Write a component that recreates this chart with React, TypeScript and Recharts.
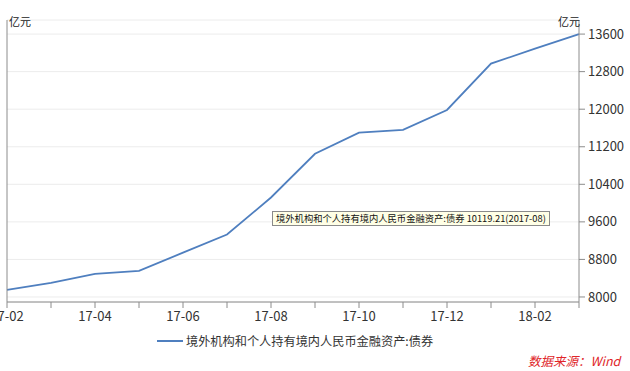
import { LineChart, Line, XAxis, YAxis, CartesianGrid, Tooltip, Legend } from 'recharts';

const months = ['17-02', '17-03', '17-04', '17-05', '17-06', '17-07', '17-08', '17-09', '17-10', '17-11', '17-12', '18-01', '18-02', '18-03'];
const bonds = [8150, 8300, 8490, 8557, 8944, 9330, 10119.21, 11050, 11500, 11560, 11983, 12971, 13290, 13600];
const majorTicks = [8000, 8800, 9600, 10400, 11200, 12000, 12800, 13600];
const minorTicks = [8200, 8400, 8600, 9000, 9200, 9400, 9800, 10000, 10200, 10600, 10800, 11000, 11400, 11600, 11800, 12200, 12400, 12600, 13000, 13200, 13400, 13800];
const seriesName = '境外机构和个人持有境内人民币金融资产:债券';
const unit = '亿元';

const data = months.map((m, i) => ({ month: m, value: bonds[i] }));

const FONT = '"Noto Sans CJK SC", "Noto Sans", sans-serif';
const AXIS = '#8c8c8c';
const BLUE = '#4f7fbf';
const DOMAIN: [number, number] = [7893, 13900];

const XTick = (props: any) => {
    const { x, y, payload, index } = props;
    if (index % 2 !== 0) return <g />;
    return (
        <text x={x} y={y + 11} textAnchor="middle" fill="#333" fontSize={13} fontFamily={FONT}>
            {payload.value}
        </text>
    );
};

const TipBox = ({ active, payload }: any) => {
    if (!active || !payload || !payload.length) return null;
    return (
        <div style={{ background: '#ffffe6', border: '1px solid #8a8a8a', padding: '0 3px', fontSize: 9.3, color: '#111', fontFamily: FONT, whiteSpace: 'nowrap', lineHeight: '13px' }}>
            {seriesName} {payload[0].value.toFixed(2)}(2017-08)
        </div>
    );
};

const LegendBox = () => (
    <div style={{ display: 'flex', alignItems: 'center', paddingLeft: 157, fontFamily: FONT, fontSize: 12.2, color: '#333' }}>
        <span style={{ display: 'inline-block', width: 26, height: 2, background: BLUE, marginRight: 3 }} />
        {seriesName}
    </div>
);

const App = () => {
    return (
        <div style={{ position: 'absolute', left: 0, top: 0, width: 630, height: 371, background: '#fff', fontFamily: FONT }}>
            <LineChart width={630} height={371} data={data} margin={{ top: 20, right: 0, bottom: 22, left: 0 }}>
                <CartesianGrid yAxisId="r" horizontal vertical={false} stroke="#ececec" />
                <XAxis dataKey="month" interval={0} stroke={AXIS} tickSize={6} tick={XTick} height={29} />
                <YAxis yAxisId="l" orientation="left" width={7} domain={DOMAIN} ticks={majorTicks} stroke={AXIS} tickSize={7} tick={() => <g />} />
                <YAxis yAxisId="lm" orientation="left" mirror domain={DOMAIN} ticks={minorTicks} axisLine={false} stroke={AXIS} tickSize={4} tick={() => <g />} />
                <YAxis yAxisId="r" orientation="right" width={51} domain={DOMAIN} ticks={majorTicks} stroke={AXIS} tickSize={6} tickMargin={3}
                    tick={{ fill: '#333', fontSize: 13, fontFamily: FONT }} />
                <YAxis yAxisId="rm" orientation="right" mirror domain={DOMAIN} ticks={minorTicks} axisLine={false} stroke={AXIS} tickSize={4} tick={() => <g />} />
                <Tooltip content={<TipBox />} active defaultIndex={6} cursor={false} position={{ x: 272, y: 211 }} isAnimationActive={false}
                    wrapperStyle={{ outline: 'none' }} />
                <Legend verticalAlign="bottom" align="left" content={<LegendBox />} wrapperStyle={{ bottom: 21 }} />
                <Line yAxisId="r" dataKey="value" name={seriesName} stroke={BLUE} strokeWidth={1.8} dot={false} activeDot={false} isAnimationActive={false} />
            </LineChart>
            <span style={{ position: 'absolute', left: 9, top: 13, fontSize: 11, color: '#222' }}>{unit}</span>
            <span style={{ position: 'absolute', left: 558, top: 13, fontSize: 11, color: '#222' }}>{unit}</span>
            <span style={{ position: 'absolute', left: 528, top: 351, fontSize: 12.5, color: '#e0262a', fontStyle: 'italic' }}>数据来源：Wind</span>
        </div>
    );
};

export default App;
